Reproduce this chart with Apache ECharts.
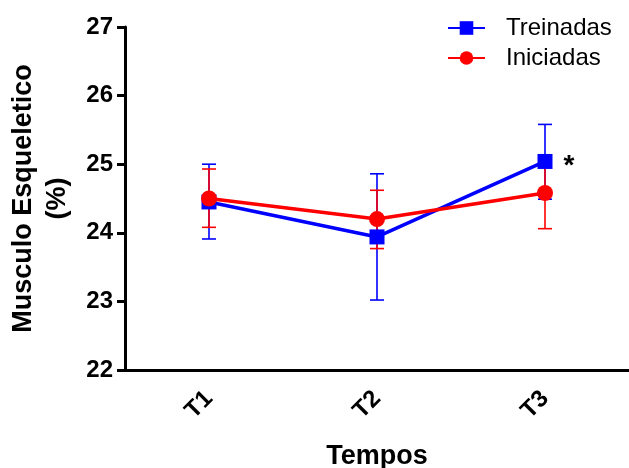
<!DOCTYPE html>
<html>
<head>
<meta charset="utf-8">
<script src="https://cdn.jsdelivr.net/npm/echarts@6/dist/echarts.min.js"></script>
<style>
  html, body { margin: 0; padding: 0; background: #fff; }
  #chart { width: 629px; height: 468px; }
</style>
</head>
<body>
<div id="chart"></div>
<script>
// dados
let tempos = ['T1', 'T2', 'T3'];
let treinadas = [24.45, 23.94, 25.04];
let treinadasLow = [23.91, 23.02, 24.49];
let treinadasHigh = [25.00, 24.86, 25.58];
let iniciadas = [24.50, 24.20, 24.58];
let iniciadasLow = [24.08, 23.77, 24.06];
let iniciadasHigh = [24.93, 24.62, 25.11];
let yTicks = [22, 23, 24, 25, 26, 27];

//monta os dados das barras de erro
function errorData(low, high) {
    let temp = [];
    for (let i = 0; i < low.length; i++) {
        temp.push([i, low[i], high[i]]);
    }
    return temp;
}

function errorSeries(name, color, low, high) {
    return {
        name: name,
        type: 'custom',
        z: 3,
        data: errorData(low, high),
        renderItem: function (params, api) {
            let x = api.value(0);
            let lo = api.coord([x, api.value(1)]);
            let hi = api.coord([x, api.value(2)]);
            let w = 7;
            let st = {stroke: color, lineWidth: 1.6};
            return {
                type: 'group',
                children: [
                    {type: 'line', shape: {x1: hi[0], y1: hi[1], x2: lo[0], y2: lo[1]}, style: st},
                    {type: 'line', shape: {x1: hi[0] - w, y1: hi[1], x2: hi[0] + w, y2: hi[1]}, style: st},
                    {type: 'line', shape: {x1: lo[0] - w, y1: lo[1], x2: lo[0] + w, y2: lo[1]}, style: st}
                ]
            };
        }
    };
}

let treinadasData = treinadas.map(function (v, i) {
    if (i === 2) {
        return {value: v, label: {show: true, formatter: '*', position: 'right', distance: 11,
            color: '#000', fontSize: 28, fontWeight: 'bold', fontFamily: 'Liberation Sans', offset: [0, 5]}};
    }
    return v;
});

let myChart = echarts.init(document.getElementById('chart'), null, {renderer: 'canvas'});
myChart.setOption({
    animation: false,
    backgroundColor: '#fff',
    textStyle: {fontFamily: 'Liberation Sans'},
    grid: {left: 125, right: 0, top: 27, bottom: 98, containLabel: false, outerBoundsMode: 'none'},
    legend: {
        left: 447,
        top: 16,
        padding: 0,
        orient: 'vertical',
        itemWidth: 37,
        itemHeight: 17,
        itemGap: 6,
        data: ['Treinadas', 'Iniciadas'],
        textStyle: {fontSize: 24, color: '#000', padding: [0, 0, 0, 16], lineHeight: 24}
    },
    xAxis: {
        type: 'category',
        data: tempos,
        name: 'Tempos',
        nameLocation: 'middle',
        nameGap: 73,
        nameTextStyle: {fontSize: 27, fontWeight: 'bold', color: '#000'},
        axisLine: {lineStyle: {color: '#000', width: 3}},
        axisTick: {alignWithLabel: true, length: 8, lineStyle: {width: 3, color: '#000'}},
        axisLabel: {rotate: 45, margin: 25, fontSize: 24, fontWeight: 'bold', color: '#000'}
    },
    yAxis: {
        type: 'value',
        min: yTicks[0],
        max: yTicks[yTicks.length - 1],
        interval: 1,
        name: 'Musculo Esqueletico\n(%)',
        nameLocation: 'middle',
        nameRotate: 90,
        nameGap: 50,
        nameTextStyle: {fontSize: 27, fontWeight: 'bold', color: '#000', lineHeight: 34},
        axisLine: {show: true, lineStyle: {color: '#000', width: 3}},
        axisTick: {show: true, length: 8, lineStyle: {width: 3, color: '#000'}},
        axisLabel: {margin: 12, fontSize: 24, fontWeight: 'bold', color: '#000'},
        splitLine: {show: false}
    },
    series: [
        errorSeries('errT', '#0000ff', treinadasLow, treinadasHigh),
        {
            name: 'Treinadas',
            type: 'line',
            data: treinadasData,
            z: 4,
            symbol: 'rect',
            symbolSize: 15,
            color: '#0000ff',
            lineStyle: {width: 3.5, color: '#0000ff'},
            itemStyle: {color: '#0000ff'}
        },
        errorSeries('errI', '#ff0000', iniciadasLow, iniciadasHigh),
        {
            name: 'Iniciadas',
            type: 'line',
            data: iniciadas,
            z: 5,
            symbol: 'circle',
            symbolSize: 16,
            color: '#ff0000',
            lineStyle: {width: 3.5, color: '#ff0000'},
            itemStyle: {color: '#ff0000'}
        }
    ]
});
</script>
</body>
</html>
